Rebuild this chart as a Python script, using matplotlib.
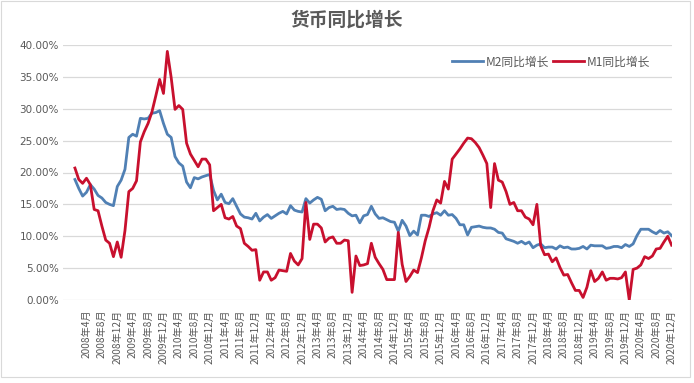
import matplotlib
matplotlib.use("Agg")
import matplotlib.pyplot as plt
from matplotlib.patches import Rectangle

plt.rcParams['font.family'] = ['Noto Sans CJK SC', 'DejaVu Sans']

title = "货币同比增长"
series_names = ["M2同比增长", "M1同比增长"]

# Monthly values, 2008-01 .. 2020-12 (%)
m2 = [
    18.9, 17.5, 16.3, 16.9, 18.1, 17.4, 16.4, 16.0, 15.3, 15.0, 14.8, 17.8,   # 2008
    18.8, 20.5, 25.5, 26.0, 25.7, 28.5, 28.4, 28.5, 29.3, 29.4, 29.7, 27.7,   # 2009
    26.0, 25.5, 22.5, 21.5, 21.0, 18.5, 17.6, 19.2, 19.0, 19.3, 19.5, 19.7,   # 2010
    17.2, 15.7, 16.6, 15.3, 15.1, 15.9, 14.7, 13.5, 13.0, 12.9, 12.7, 13.6,   # 2011
    12.4, 13.0, 13.4, 12.8, 13.2, 13.6, 13.9, 13.5, 14.8, 14.1, 13.9, 13.8,   # 2012
    15.9, 15.2, 15.7, 16.1, 15.8, 14.0, 14.5, 14.7, 14.2, 14.3, 14.2, 13.6,   # 2013
    13.2, 13.3, 12.1, 13.2, 13.4, 14.7, 13.5, 12.8, 12.9, 12.6, 12.3, 12.2,   # 2014
    10.8, 12.5, 11.6, 10.1, 10.8, 10.2, 13.3, 13.3, 13.1, 13.5, 13.7, 13.3,   # 2015
    14.0, 13.3, 13.4, 12.8, 11.8, 11.8, 10.2, 11.4, 11.5, 11.6, 11.4, 11.3,   # 2016
    11.3, 11.1, 10.6, 10.5, 9.6, 9.4, 9.2, 8.9, 9.2, 8.8, 9.1, 8.2,           # 2017
    8.6, 8.8, 8.2, 8.3, 8.3, 8.0, 8.5, 8.2, 8.3, 8.0, 8.0, 8.1,               # 2018
    8.4, 8.0, 8.6, 8.5, 8.5, 8.5, 8.1, 8.2, 8.4, 8.4, 8.2, 8.7,               # 2019
    8.4, 8.8, 10.1, 11.1, 11.1, 11.1, 10.7, 10.4, 10.9, 10.5, 10.7, 10.1,     # 2020
]
m1 = [
    20.7, 18.9, 18.3, 19.1, 18.1, 14.2, 14.0, 11.6, 9.4, 8.9, 6.8, 9.1,       # 2008
    6.7, 10.9, 17.0, 17.5, 18.7, 24.8, 26.4, 27.7, 29.5, 32.0, 34.6, 32.4,    # 2009
    39.0, 34.9, 29.9, 30.5, 29.9, 24.6, 22.9, 21.9, 20.9, 22.1, 22.1, 21.2,   # 2010
    14.0, 14.5, 15.0, 12.9, 12.7, 13.1, 11.6, 11.2, 8.9, 8.4, 7.8, 7.9,       # 2011
    3.1, 4.4, 4.4, 3.1, 3.5, 4.7, 4.6, 4.5, 7.3, 6.1, 5.5, 6.5,               # 2012
    15.3, 9.5, 11.9, 11.9, 11.3, 9.1, 9.7, 9.9, 8.9, 8.9, 9.4, 9.3,           # 2013
    1.2, 6.9, 5.4, 5.5, 5.7, 8.9, 6.7, 5.7, 4.8, 3.2, 3.2, 3.2,               # 2014
    10.6, 5.6, 2.9, 3.7, 4.7, 4.3, 6.6, 9.3, 11.4, 14.0, 15.7, 15.2,          # 2015
    18.6, 17.4, 22.1, 22.9, 23.7, 24.6, 25.4, 25.3, 24.7, 23.9, 22.7, 21.4,   # 2016
    14.5, 21.4, 18.8, 18.5, 17.0, 15.0, 15.3, 14.0, 14.0, 13.0, 12.7, 11.8,   # 2017
    15.0, 8.5, 7.1, 7.2, 6.0, 6.6, 5.1, 3.9, 4.0, 2.7, 1.5, 1.5,              # 2018
    0.4, 2.0, 4.6, 2.9, 3.4, 4.4, 3.1, 3.4, 3.4, 3.3, 3.5, 4.4,               # 2019
    0.0, 4.8, 5.0, 5.5, 6.8, 6.5, 6.9, 8.0, 8.1, 9.1, 10.0, 8.6,              # 2020
]

tick_labels = [
    "2008年4月", "2008年8月", "2008年12月", "2009年4月", "2009年8月", "2009年12月",
    "2010年4月", "2010年8月", "2010年12月", "2011年4月", "2011年8月", "2011年12月",
    "2012年4月", "2012年8月", "2012年12月", "2013年4月", "2013年8月", "2013年12月",
    "2014年4月", "2014年8月", "2014年12月", "2015年4月", "2015年8月", "2015年12月",
    "2016年4月", "2016年8月", "2016年12月", "2017年4月", "2017年8月", "2017年12月",
    "2018年4月", "2018年8月", "2018年12月", "2019年4月", "2019年8月", "2019年12月",
    "2020年4月", "2020年8月", "2020年12月",
]
y_ticks = [0, 5, 10, 15, 20, 25, 30, 35, 40]

x = list(range(len(m2)))
tick_pos = [3 + 4 * i for i in range(len(tick_labels))]

fig = plt.figure(figsize=(6.94, 3.83), dpi=100)
W, H = 694, 383
ax = fig.add_axes([63 / W, (H - 300) / H, (672 - 63) / W, (300 - 45) / H])

blue = "#5080B4"
red = "#C8102E"
ax.plot(x, m2, color=blue, lw=2.0, label=series_names[0], solid_joinstyle='round', zorder=3)
ax.plot(x, m1, color=red, lw=2.0, label=series_names[1], solid_joinstyle='round', zorder=4)

ax.set_xlim(-3.1, 155.1)
ax.set_ylim(0, 40)
ax.set_yticks(y_ticks)
ax.set_yticklabels([f"{v:.2f}%" for v in y_ticks], fontsize=7.5, color="#595959",
                   family=['DejaVu Sans'])
ax.set_xticks(tick_pos)
ax.set_xticklabels(tick_labels, rotation=90, fontsize=7.3, color="#595959")
ax.tick_params(axis='both', length=0)
ax.tick_params(axis='y', pad=3)
ax.tick_params(axis='x', pad=7)
ax.grid(axis='y', color="#D9D9D9", lw=0.9, zorder=0)
for s in ax.spines.values():
    s.set_visible(False)

fig.text(347 / W, (H - 20) / H, title, ha='center', va='center', fontsize=13.5,
         fontweight='bold', color="#595959")

leg = fig.legend(loc='center', bbox_to_anchor=(551 / W, (H - 62) / H), ncol=2,
                 frameon=False, fontsize=8.5, handlelength=2.6, handletextpad=0.2,
                 columnspacing=0.4, borderaxespad=0)
for t in leg.get_texts():
    t.set_color("#595959")

fig.patches.append(Rectangle((1 / W, (H - 377) / H), 689 / W, 376 / H, transform=fig.transFigure,
                             fill=False, edgecolor="#D9D9D9", lw=0.8))

fig.savefig("out.png", dpi=100)
